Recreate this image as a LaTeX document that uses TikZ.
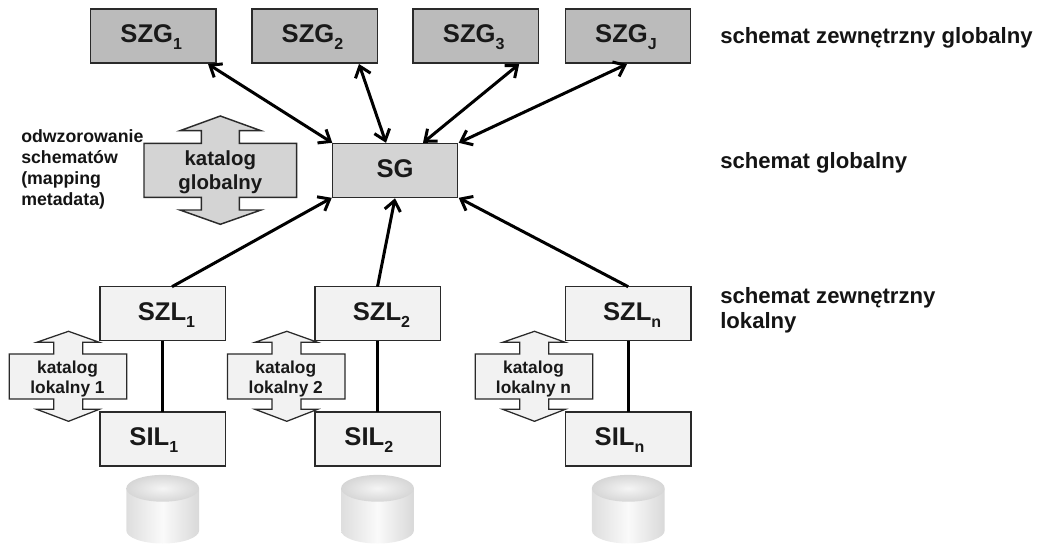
\documentclass[tikz,border=0pt]{standalone}
\usepackage{fontspec}
\setmainfont{Liberation Sans}
\usetikzlibrary{arrows.meta,calc}
\definecolor{gA}{HTML}{BBBBBB}
\definecolor{gB}{HTML}{D4D4D4}
\definecolor{gC}{HTML}{F2F2F2}
\definecolor{edge}{HTML}{2A2A2A}
\newcommand{\fsz}[2]{\fontsize{#1pt}{#2pt}\selectfont}
\newcommand{\subidx}[1]{\raisebox{-5.2pt}{\fsz{12}{12}#1}}
\tikzset{
 x=0.75pt,y=-0.75pt,
 schemabox/.style={draw=edge,line width=1.1pt,minimum width=94.1pt,minimum height=40.5pt,inner sep=0pt,outer sep=0pt,font=\bfseries\fsz{19.2}{23},text=black!90,text height=10.2pt,text depth=0pt},
 szgbox/.style={schemabox,fill=gA},
 sgbox/.style={schemabox,fill=gB},
 localbox/.style={schemabox,fill=gC},
 link/.style={line width=2.25pt,black,line cap=butt},
 twoway/.style={link,{Straight Barb[length=7.5pt,width=12pt]}-{Straight Barb[length=7.5pt,width=12pt]}},
 oneway/.style={link,-{Straight Barb[length=7.5pt,width=12pt]}},
 stem/.style={line width=2.25pt,black},
 levellabel/.style={anchor=base west,inner sep=0pt,font=\bfseries\fsz{16.6}{18.8},align=left,text=black!92},
 notelabel/.style={anchor=north west,inner sep=0pt,font=\bfseries\fsz{13.3}{15.9},align=left,text=black!92},
 catglobal/.style={inner sep=0pt,font=\bfseries\fsz{15.3}{17.8},align=center,text=black!90},
 catlocal/.style={inner sep=0pt,font=\bfseries\fsz{13}{15.5},align=center,text=black!90},
}
\newcommand{\localcat}[3]{%
 \begin{scope}[shift={(#1,0)}]
 \draw[edge,line width=0.95pt,fill=gC] (68.5,331.3)--(99.3,342.3)--(82.7,342.3)--(82.7,354)--(126.7,354)--(126.7,399)--(82.7,399)--(82.7,409.3)--(99.3,409.3)--(68.5,421.3)--(36.7,409.3)--(53.7,409.3)--(53.7,399)--(9.3,399)--(9.3,354)--(53.7,354)--(53.7,342.3)--(36.7,342.3)--cycle;
 \node[catlocal] (#2) at (67.5,379) {katalog\\lokalny #3};
 \end{scope}}
\newcommand{\drum}[2]{%
 \begin{scope}[shift={(#1,0)}]
 \shade[left color=black!13,right color=black!15,middle color=black!2] (126.3,488.5) -- (126.3,530.5) arc[start angle=180,end angle=0,x radius=36.4,y radius=13] -- (199.1,488.5) -- cycle;
 \shade[inner color=black!4,outer color=black!16] (162.7,488.3) ellipse[x radius=36.4,y radius=13.4];
 \coordinate (#2) at (162.7,488.3);
 \end{scope}}
\begin{document}
\begin{tikzpicture}
\useasboundingbox (0,0) rectangle (1040,544);
% catalogue arrows
\draw[edge,line width=1.1pt,fill=gB] (220.3,116)--(261,130.7)--(239.3,130.7)--(239.3,143.3)--(296.7,143.3)--(296.7,197.3)--(239.3,197.3)--(239.3,210)--(261,210)--(220.3,224.3)--(180,210)--(201.3,210)--(201.3,197.3)--(144,197.3)--(144,143.3)--(201.3,143.3)--(201.3,130.7)--(180,130.7)--cycle;
\node[catglobal] (katg) at (220.3,172.5) {katalog\\globalny};
\localcat{0}{kat1}{1}
\localcat{218.3}{kat2}{2}
\localcat{466}{katn}{n}
% boxes
\node[szgbox] (szg1) at (153.2,36) {\hspace*{-3pt}SZG\subidx{1}};
\node[szgbox] (szg2) at (314.5,36) {\hspace*{-3pt}SZG\subidx{2}};
\node[szgbox] (szg3) at (475.7,36) {\hspace*{-3pt}SZG\subidx{3}};
\node[szgbox] (szgj) at (628,36) {\hspace*{-3pt}SZG\subidx{J}};
\node[sgbox] (sg) at (395,170.3) {SG};
\node[localbox] (szl1) at (162.5,313.7) {\hspace*{6pt}SZL\subidx{1}};
\node[localbox] (szl2) at (377.5,313.7) {\hspace*{6pt}SZL\subidx{2}};
\node[localbox] (szln) at (628.2,313.7) {\hspace*{6pt}SZL\subidx{n}};
\node[localbox] (sil1) at (162.5,439) {\hspace*{-13pt}SIL\subidx{1}};
\node[localbox] (sil2) at (377.5,439) {\hspace*{-13pt}SIL\subidx{2}};
\node[localbox] (siln) at (628.2,439) {\hspace*{-13pt}SIL\subidx{n}};
% drums
\drum{0}{db1}
\drum{214.8}{db2}
\drum{465.6}{dbn}
% connectors
\draw[twoway] ($(szg1.south)+(54.8,1)$) -- ($(sg.north west)+(0,-0.5)$);
\draw[twoway] ($(szg2.south)+(44.5,1)$) -- ($(sg.north)+(-9,-0.5)$);
\draw[twoway] ($(szg3.south)+(43.5,1)$) -- ($(sg.north)+(28,-0.5)$);
\draw[twoway] ($(szgj.south)+(-1,1)$) -- ($(sg.north east)+(1,-0.5)$);
\draw[oneway] ($(szl1.north)+(9.5,0)$) -- ($(sg.south west)+(-0.5,0.5)$);
\draw[oneway] (szl2.north) -- ($(sg.south)+(0,1)$);
\draw[oneway] (szln.north) -- ($(sg.south east)+(1,0.5)$);
\draw[stem] (szl1) -- (sil1);
\draw[stem] (szl2) -- (sil2);
\draw[stem] (szln) -- (siln);
% level labels
\node[levellabel] (lv1) at (720,43.2) {schemat zewnętrzny globalny};
\node[levellabel] (lv2) at (720,168.3) {schemat globalny};
\node[levellabel,anchor=north west] (lv3) at (720,287) {schemat zewnętrzny\\lokalny};
\node[notelabel] (note) at (21,129) {odwzorowanie\\schematów\\(mapping\\metadata)};
\end{tikzpicture}
\end{document}
